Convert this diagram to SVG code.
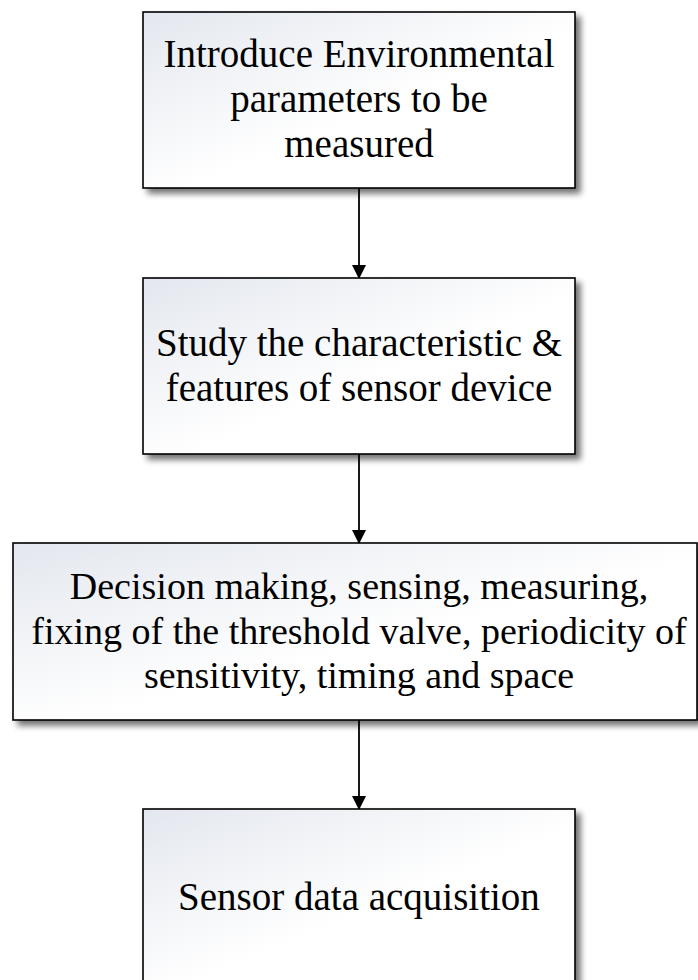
<svg xmlns="http://www.w3.org/2000/svg" width="698" height="980" viewBox="0 0 698 980">
  <defs>
    <linearGradient id="boxFill" x1="0" y1="0" x2="1" y2="1">
      <stop offset="0" stop-color="#e3e7ee"/>
      <stop offset="0.55" stop-color="#ffffff"/>
      <stop offset="1" stop-color="#ffffff"/>
    </linearGradient>
    <filter id="shadow" x="-10%" y="-10%" width="125%" height="125%">
      <feGaussianBlur in="SourceAlpha" stdDeviation="3"/>
      <feOffset dx="5" dy="5" result="b"/>
      <feComponentTransfer><feFuncA type="linear" slope="0.55"/></feComponentTransfer>
      <feMerge><feMergeNode/><feMergeNode in="SourceGraphic"/></feMerge>
    </filter>
    <marker id="arrow" markerWidth="14" markerHeight="14" refX="13" refY="7" orient="auto" markerUnits="userSpaceOnUse">
      <path d="M0,0 L14,7 L0,14 Z" fill="#000"/>
    </marker>
  </defs>
  <style>
    .box { fill: url(#boxFill); stroke: #000; stroke-width: 1.6; filter: url(#shadow); }
    .lbl { font-family: "Liberation Serif", "DejaVu Serif", serif; font-size: 39px; fill: #000; text-anchor: middle; }
    .conn { stroke: #000; stroke-width: 1.8; fill: none; marker-end: url(#arrow); }
  </style>

  <g id="connectors">
    <line class="conn" x1="359" y1="188" x2="359" y2="278"/>
    <line class="conn" x1="359" y1="454" x2="359" y2="543"/>
    <line class="conn" x1="359" y1="720" x2="359" y2="809"/>
  </g>

  <g id="node1">
    <rect class="box" x="143" y="12" width="432" height="176"/>
    <text class="lbl" x="359" y="67">Introduce Environmental</text>
    <text class="lbl" x="359" y="112">parameters to be</text>
    <text class="lbl" x="359" y="157">measured</text>
  </g>

  <g id="node2">
    <rect class="box" x="143" y="278" width="432" height="176"/>
    <text class="lbl" x="359" y="356">Study the characteristic &amp;</text>
    <text class="lbl" x="359" y="401">features of sensor device</text>
  </g>

  <g id="node3">
    <rect class="box" x="13" y="543" width="684" height="177"/>
    <text class="lbl" x="359" y="599" style="font-size:38px">Decision making, sensing, measuring,</text>
    <text class="lbl" x="359" y="644" style="font-size:38px">fixing of the threshold valve, periodicity of</text>
    <text class="lbl" x="359" y="688" style="font-size:38px">sensitivity, timing and space</text>
  </g>

  <g id="node4">
    <rect class="box" x="143" y="809" width="432" height="176"/>
    <text class="lbl" x="359" y="910">Sensor data acquisition</text>
  </g>
</svg>
